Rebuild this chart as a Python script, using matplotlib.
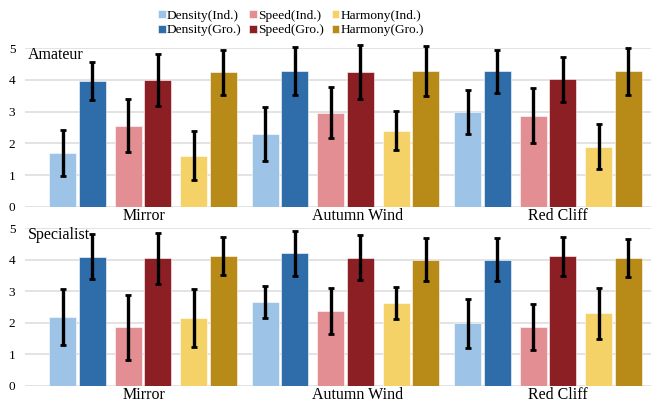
import matplotlib
matplotlib.use("Agg")
import matplotlib.pyplot as plt
import numpy as np

plt.rcParams['font.family'] = ['Liberation Serif', 'DejaVu Serif']

categories = ['Mirror', 'Autumn Wind', 'Red Cliff']
series_labels = ['Density(Ind.)', 'Density(Gro.)', 'Speed(Ind.)',
                 'Speed(Gro.)', 'Harmony(Ind.)', 'Harmony(Gro.)']
series_colors = ['#9DC3E6', '#2E6DA9', '#E38E93', '#8C1F24', '#F5D268', '#B88B18']
y_ticks = [0, 1, 2, 3, 4, 5]

# Amateur panel (means, error half-widths)
amateur_density_ind = [1.69, 2.31, 2.98]
amateur_density_gro = [3.97, 4.28, 4.27]
amateur_speed_ind = [2.56, 2.97, 2.87]
amateur_speed_gro = [4.00, 4.25, 4.02]
amateur_harmony_ind = [1.61, 2.40, 1.89]
amateur_harmony_gro = [4.24, 4.29, 4.27]
amateur_density_ind_err = [0.72, 0.85, 0.69]
amateur_density_gro_err = [0.60, 0.75, 0.68]
amateur_speed_ind_err = [0.84, 0.81, 0.87]
amateur_speed_gro_err = [0.82, 0.85, 0.72]
amateur_harmony_ind_err = [0.78, 0.61, 0.71]
amateur_harmony_gro_err = [0.72, 0.78, 0.73]

# Specialist panel
specialist_density_ind = [2.19, 2.67, 1.99]
specialist_density_gro = [4.10, 4.21, 4.01]
specialist_speed_ind = [1.86, 2.39, 1.88]
specialist_speed_gro = [4.05, 4.07, 4.11]
specialist_harmony_ind = [2.17, 2.64, 2.30]
specialist_harmony_gro = [4.13, 4.01, 4.07]
specialist_density_ind_err = [0.89, 0.50, 0.77]
specialist_density_gro_err = [0.71, 0.71, 0.67]
specialist_speed_ind_err = [1.03, 0.73, 0.73]
specialist_speed_gro_err = [0.81, 0.71, 0.61]
specialist_harmony_ind_err = [0.92, 0.50, 0.82]
specialist_harmony_gro_err = [0.61, 0.68, 0.60]

panels = [
    ('Amateur',
     [amateur_density_ind, amateur_density_gro, amateur_speed_ind,
      amateur_speed_gro, amateur_harmony_ind, amateur_harmony_gro],
     [amateur_density_ind_err, amateur_density_gro_err, amateur_speed_ind_err,
      amateur_speed_gro_err, amateur_harmony_ind_err, amateur_harmony_gro_err]),
    ('Specialist',
     [specialist_density_ind, specialist_density_gro, specialist_speed_ind,
      specialist_speed_gro, specialist_harmony_ind, specialist_harmony_gro],
     [specialist_density_ind_err, specialist_density_gro_err, specialist_speed_ind_err,
      specialist_speed_gro_err, specialist_harmony_ind_err, specialist_harmony_gro_err]),
]

W, H = 651, 403
fig = plt.figure(figsize=(W / 100, H / 100), dpi=100)

axes_rects = [
    [25 / W, 196.2 / H, 626 / W, 158.5 / H],
    [25 / W, 17.0 / H, 626 / W, 157.7 / H],
]

pair_off = 0.3235
half = 0.0728
bar_w = 0.133
offsets = [-pair_off - half, -pair_off + half, -half, half, pair_off - half, pair_off + half]
label_shift = [0.005, 0.06, 0.05]

x = np.arange(len(categories))
handles = []
for rect, (title, means, errs) in zip(axes_rects, panels):
    ax = fig.add_axes(rect)
    for spine in ax.spines.values():
        spine.set_visible(False)
    ax.set_axisbelow(True)
    for yt in y_ticks:
        ax.axhline(yt, color='#E3E3E3', lw=1.4, zorder=0)
    hs = []
    for i in range(6):
        b = ax.bar(x + offsets[i], means[i], width=bar_w, color=series_colors[i],
                   edgecolor='#FFFFFF', linewidth=0.4, zorder=2, label=series_labels[i])
        ax.errorbar(x + offsets[i], means[i], yerr=errs[i], fmt='none', ecolor='black',
                    elinewidth=2.4, capsize=2.4, capthick=2.0, zorder=3, clip_on=False)
        hs.append(b)
    handles = hs
    ax.set_xlim(-0.5827, 2.5086)
    ax.set_ylim(0, 5)
    ax.set_yticks(y_ticks)
    ax.set_yticklabels([str(t) for t in y_ticks], fontsize=9.5)
    ax.set_xticks(x + np.array(label_shift))
    ax.set_xticklabels(categories, fontsize=11.5)
    ax.tick_params(axis='both', length=0)
    ax.tick_params(axis='y', pad=7)
    ax.tick_params(axis='x', pad=1)
    ax.text(0.005, 0.955, title, transform=ax.transAxes, fontsize=11.5,
            ha='left', va='center')

fig.legend(handles, series_labels, ncol=3, loc='center',
           bbox_to_anchor=(291 / W, 1 - 23.0 / H), frameon=False, fontsize=9.6,
           handlelength=0.55, handleheight=0.6, handletextpad=0.08,
           columnspacing=0.6, labelspacing=0.22, borderpad=0)

fig.savefig('out.png', dpi=100)
